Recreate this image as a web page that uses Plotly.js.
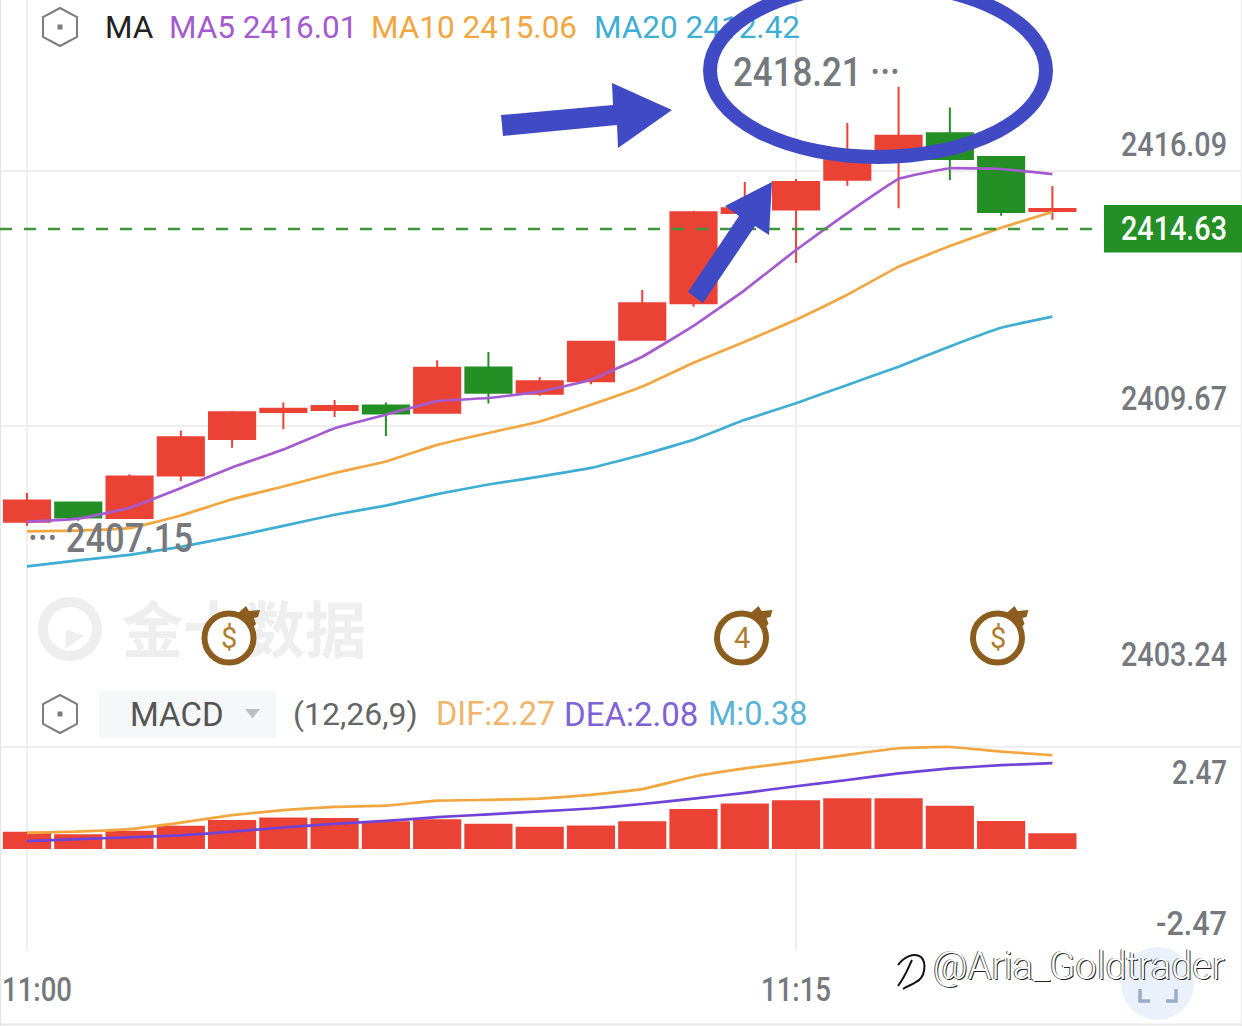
<!DOCTYPE html>
<html><head><meta charset="utf-8">
<script src="https://cdn.plot.ly/plotly-3.0.1.min.js"></script>
<style>html,body{margin:0;padding:0;background:#fff;overflow:hidden}#c{width:1242px;height:1026px}</style>
</head><body><div id="c"></div>
<script>
const minutes=[0,1,2,3,4,5,6,7,8,9,10,11,12,13,14,15,16,17,18,19,20];
const open =[2407.25,2407.74,2407.35,2408.42,2409.34,2410.02,2410.07,2410.18,2410.00,2411.14,2410.48,2410.79,2411.84,2412.76,2415.03,2415.12,2415.87,2416.49,2417.04,2416.44,2415.08];
const high =[2407.98,2407.76,2408.45,2409.55,2410.04,2410.26,2410.32,2410.26,2411.32,2411.53,2410.90,2411.81,2413.09,2415.09,2415.81,2415.89,2417.30,2418.21,2417.69,2416.44,2415.71];
const low  =[2407.15,2407.28,2407.34,2408.27,2409.12,2409.58,2409.89,2409.41,2409.98,2410.23,2410.43,2410.72,2411.81,2412.67,2415.00,2413.77,2415.72,2415.15,2415.86,2414.96,2414.86];
const close=[2407.79,2407.36,2408.39,2409.38,2410.01,2410.10,2410.17,2409.98,2411.13,2410.50,2410.79,2411.79,2412.76,2415.05,2415.15,2415.81,2416.57,2416.98,2416.39,2415.06,2415.13];
const ma5  =[2407.25,2407.33,2407.60,2408.10,2408.62,2409.07,2409.61,2409.95,2410.29,2410.37,2410.53,2410.83,2411.41,2412.19,2413.09,2414.10,2415.03,2415.89,2416.16,2416.14,2416.01];
const ma10 =[2407.01,2407.03,2407.09,2407.41,2407.82,2408.14,2408.48,2408.77,2409.19,2409.49,2409.78,2410.20,2410.66,2411.26,2411.79,2412.34,2412.97,2413.68,2414.20,2414.66,2415.06];
const ma20 =[2406.13,2406.28,2406.42,2406.62,2406.87,2407.15,2407.43,2407.66,2407.95,2408.19,2408.39,2408.61,2408.94,2409.32,2409.82,2410.24,2410.70,2411.16,2411.67,2412.14,2412.42];
const macdM=[0.42,0.36,0.44,0.56,0.70,0.76,0.75,0.67,0.72,0.61,0.54,0.57,0.67,0.97,1.10,1.18,1.23,1.23,1.05,0.68,0.38];
const dif  =[0.39,0.42,0.48,0.64,0.82,0.94,1.02,1.05,1.17,1.19,1.22,1.31,1.45,1.75,1.95,2.11,2.28,2.44,2.47,2.36,2.27];
const dea  =[0.19,0.24,0.28,0.33,0.42,0.52,0.61,0.68,0.77,0.84,0.91,0.98,1.09,1.22,1.36,1.52,1.67,1.83,1.95,2.03,2.08];
const priceTicks=[2416.09,2409.67,2403.24];
const macdTicks=[2.47,-2.47];
const timeTicks=[0,15];
const timeLabels=['11:00','11:15'];
const eventIcons=['$','4','$'];
const lastPrice=2414.63, periodHigh=2418.21, periodLow=2407.15;

const RED='#EA4335',GREEN='#248F24',PUR='#A55BD0',ORG='#F2A63F',BLU='#3FAED3',DEAC='#6F42D8',GREY='#75797E',BLUE='#3F4AC4';
const NUM='Roboto,sans-serif', UI='Roboto,sans-serif';
const W=1242,H=1026;
const xPx=p=>(p-27)/51.27;            // pixel → minute axis, for placing decorations
const yPx=p=>2416.09-(p-171)*12.85/510; // pixel → price axis
const X=p=>p/W, Y=p=>1-p/H;           // pixel → paper

function poly(pts,fill,line,lw){
  return {type:'path',xref:'paper',yref:'paper',layer:'above',
    path:'M'+pts.map(q=>X(q[0])+','+Y(q[1])).join(' L')+' Z',
    fillcolor:fill,line:{color:line||fill,width:lw||0}};
}
function curve(d,color,lw,fill){
  let s='';d.forEach(c=>{s+=c[0];for(let i=1;i<c.length;i+=2)s+=(i>1?' ':'')+X(c[i])+','+Y(c[i+1])+' ';});
  return {type:'path',xref:'paper',yref:'paper',layer:'above',path:s,fillcolor:fill||'rgba(0,0,0,0)',line:{color,width:lw}};
}
function line(x0,y0,x1,y1,color,w){return {type:'line',xref:'paper',yref:'paper',layer:'above',x0:X(x0),y0:Y(y0),x1:X(x1),y1:Y(y1),line:{color,width:w}};}
function oval(x0,y0,x1,y1,fill,lc,lw){return {type:'circle',xref:'paper',yref:'paper',layer:'above',x0:X(x0),x1:X(x1),y0:Y(y0),y1:Y(y1),fillcolor:fill,line:{color:lc,width:lw}};}
function hex(cy){const c=60;return poly([[c,cy-19],[c+17,cy-10],[c+17,cy+10],[c,cy+19],[c-17,cy+10],[c-17,cy-10]],'rgba(0,0,0,0)','#7d7d7d',2);}
function bomb(cx){const cy=638;return [
  poly([[cx+8,cy-24],[cx+17,cy-32],[cx+20,cy-27],[cx+31,cy-28],[cx+29,cy-21],[cx+25,cy-20],[cx+27,cy-14],[cx+22,cy-9]],'#8B5E20'),
  oval(cx-24.5,cy-24.5,cx+24.5,cy+24.5,'#fff','#8B5E20',6)];}

const iconCenters=[229,741.5,997.5];
const shapes=[
  line(0.5,0,0.5,1026,'#e6e6e6',1.5), line(1241.5,0,1241.5,1026,'#eeeeee',1.5),
  line(0,1024.5,1242,1024.5,'#e8e8e8',2),
  {type:'line',xref:'paper',yref:'y',layer:'above',x0:0,x1:X(1104),y0:lastPrice,y1:lastPrice,line:{color:'#3E953B',width:2.5,dash:'12px,12px'}},
  {type:'rect',xref:'paper',yref:'paper',layer:'above',x0:X(1104),x1:1,y0:Y(205),y1:Y(252.5),fillcolor:GREEN,line:{width:0}},
  hex(27),hex(714),
  {type:'rect',xref:'paper',yref:'paper',layer:'above',x0:X(57.5),x1:X(62.5),y0:Y(24.5),y1:Y(29.5),fillcolor:'#7d7d7d',line:{width:0}},
  {type:'rect',xref:'paper',yref:'paper',layer:'above',x0:X(57.5),x1:X(62.5),y0:Y(711.5),y1:Y(716.5),fillcolor:'#7d7d7d',line:{width:0}},
  {type:'rect',xref:'paper',yref:'paper',layer:'above',x0:X(99),x1:X(276),y0:Y(691),y1:Y(738),fillcolor:'#F6F7F9',line:{width:0}},
  poly([[245,709],[260,709],[252.5,718.5]],'#BDBEC0'),
  ...iconCenters.flatMap(bomb),
  oval(1121,947,1194,1020,'#EAF1FA','#EAF1FA',0),
  curve([['M',1140,989],['L',1140,1001],['L',1150,1001]],'#9DABC9',3.5),
  curve([['M',1176,989],['L',1176,1001],['L',1166,1001]],'#9DABC9',3.5),
  oval(710,-16,1046,157,'rgba(0,0,0,0)',BLUE,14),
  poly([[501,115],[613,105],[612,83],[672,110],[618,148],[617,125],[503,136]],BLUE),
  poly([[772,182],[725,206],[739,216],[688,292],[703,303],[755,226],[769,235]],BLUE),
  curve([['M',898,965],['C',904,957,914,952,921,957],['C',927,963,925,978,916,982],['C',912,985,907,986,903,989]],'#111',2),
  curve([['M',912,960],['C',908,968,906,975,898,986]],'#111',2)
];

function ann(t){return Object.assign({xref:'paper',yref:'paper',showarrow:false,align:'left',xanchor:'left',yanchor:'middle',captureevents:false},t);}
function pxText(text,px,py,size,color,family,extra){return ann(Object.assign({text,x:X(px),y:Y(py),font:{size,color,family}},extra||{}));}
const numFont=(size,color)=>({size,color,family:NUM,weight:500});

const condensed={};
priceTicks.forEach(v=>condensed[v.toFixed(2)]=106);
condensed[lastPrice.toFixed(2)]=106;
condensed['2.47']=55; condensed['-2.47']=71;
timeLabels.forEach(t=>condensed[t]=70);
condensed[periodHigh.toFixed(2)+' ···']=167;
condensed['··· '+periodLow.toFixed(2)]=165;

const annotations=[
  ...priceTicks.map(v=>ann({text:v.toFixed(2),yref:'y',y:v,x:X(1119),yshift:27,font:numFont(33,GREY)})),
  ...macdTicks.map(v=>ann({text:v.toFixed(2),yref:'y2',y:v,x:X(v>0?1170:1154),yshift:v>0?-26:28,font:numFont(33,GREY)})),
  ann({text:lastPrice.toFixed(2),yref:'y',y:lastPrice,x:X(1119),font:numFont(33,'#fff')}),
  ann({text:timeLabels[0],xref:'x',x:timeTicks[0],xshift:-27,y:Y(989),font:numFont(33,GREY)}),
  ann({text:timeLabels[1],xref:'x',x:timeTicks[1],xshift:-37,y:Y(989),font:numFont(33,GREY)}),
  ann({text:periodHigh.toFixed(2)+' ···',xref:'x',yref:'y',x:minutes[17],y:periodHigh,xshift:-168,yshift:15,font:numFont(41,GREY)}),
  ann({text:'··· '+periodLow.toFixed(2),xref:'x',yref:'y',x:minutes[0],y:periodLow,xshift:-1,yshift:-12,font:numFont(41,GREY)}),
  ...eventIcons.map((t,i)=>pxText(t,iconCenters[i],638,29,'#B07D30',UI,{xanchor:'center',align:'center'})),
  pxText('MACD',128,714,33,'#555',UI),
  pxText('(12,26,9)',291,714,32,'#666',UI),
  pxText('DIF:'+dif[20].toFixed(2),434,714,32.5,'#F2B46A',UI),
  pxText('DEA:'+dea[20].toFixed(2),562,714,33,'#7E62D6',UI),
  pxText('M:'+macdM[20].toFixed(2),706,714,32.5,'#5BB4D8',UI),
  pxText('@Aria_Goldtrader',931,966,38,'#fff',UI,{font:{size:38,color:'#fff',family:UI,weight:300,shadow:'1px 1px 0 #222,-1px 0 0 #555'}})
];

const headerLabels=['MA','MA5 '+ma5[20].toFixed(2),'MA10 '+ma10[20].toFixed(2),'MA20 '+ma20[20].toFixed(2)];
const headerColors=['#222',PUR,ORG,BLU];
const headerStarts=[105,169,371,594];

const traces=[
  {type:'box',x:[200],y:[2410],xaxis:'x',yaxis:'y',hoverinfo:'skip',showlegend:false,marker:{opacity:0},line:{width:0}},
  {type:'scatter',mode:'text',x:[xPx(122)],y:[yPx(638)],text:['金十数据'],textposition:'middle right',
   textfont:{family:'Noto Sans CJK SC',size:61,color:'#EEEEEE',weight:700},hoverinfo:'skip',showlegend:false,cliponaxis:false},
  {type:'scatter',mode:'markers',x:[xPx(70)],y:[yPx(629)],marker:{size:54,color:'rgba(0,0,0,0)',line:{color:'#EEEEEE',width:10}},hoverinfo:'skip',showlegend:false},
  {type:'scatter',mode:'markers',x:[xPx(72)],y:[yPx(638)],marker:{size:20,symbol:'triangle-up',angle:-35,color:'#EEEEEE'},hoverinfo:'skip',showlegend:false},
  {type:'candlestick',x:minutes,open,high,low,close,xaxis:'x',yaxis:'y',whiskerwidth:0,
   increasing:{line:{color:RED,width:2},fillcolor:RED},decreasing:{line:{color:GREEN,width:2},fillcolor:GREEN},showlegend:false},
  {type:'scatter',mode:'lines',x:minutes,y:ma20,line:{color:BLU,width:2.7,shape:'spline',smoothing:0.3},name:'MA20',showlegend:false},
  {type:'scatter',mode:'lines',x:minutes,y:ma10,line:{color:ORG,width:2.7,shape:'spline',smoothing:0.3},name:'MA10',showlegend:false},
  {type:'scatter',mode:'lines',x:minutes,y:ma5,line:{color:PUR,width:2.7,shape:'spline',smoothing:0.3},name:'MA5',showlegend:false},
  ...headerLabels.map((t,i)=>({type:'scatter',mode:'text',x:[xPx(headerStarts[i])],y:[yPx(30)],text:[t],textposition:'middle right',
    textfont:{family:UI,size:31.5,color:headerColors[i]},hoverinfo:'skip',showlegend:false,cliponaxis:false})),
  {type:'bar',x:minutes,y:macdM,width:0.94,marker:{color:RED,line:{width:0}},xaxis:'x',yaxis:'y2',name:'M',showlegend:false},
  {type:'scatter',mode:'lines',x:minutes,y:dif,xaxis:'x',yaxis:'y2',line:{color:ORG,width:2.7,shape:'spline',smoothing:0.3},name:'DIF',showlegend:false},
  {type:'scatter',mode:'lines',x:minutes,y:dea,xaxis:'x',yaxis:'y2',line:{color:DEAC,width:2.7,shape:'spline',smoothing:0.3},name:'DEA',showlegend:false}
];

const layout={
  width:W,height:H,margin:{l:0,r:0,t:0,b:0},paper_bgcolor:'#fff',plot_bgcolor:'#fff',showlegend:false,boxgap:0.1,boxgroupgap:0,boxmode:'overlay',hovermode:false,
  xaxis:{range:[xPx(0),xPx(W)],anchor:'y2',tickmode:'array',tickvals:timeTicks,ticktext:timeLabels,showticklabels:false,showgrid:true,gridcolor:'#EFEFEF',gridwidth:1.5,zeroline:false,showline:false,ticks:'',rangeslider:{visible:false},fixedrange:true},
  yaxis:{domain:[Y(681),1],range:[priceTicks[2],yPx(0)],tickmode:'array',tickvals:priceTicks,showticklabels:false,showgrid:true,gridcolor:'#EFEFEF',gridwidth:1.5,zeroline:false,showline:false,ticks:'',fixedrange:true},
  yaxis2:{domain:[Y(951),Y(681)],range:[-2.47,(849-681)/41.3],tickmode:'array',tickvals:macdTicks,showticklabels:false,showgrid:true,gridcolor:'#EFEFEF',gridwidth:1.5,zeroline:false,showline:false,ticks:'',fixedrange:true},
  shapes,annotations
};
Plotly.newPlot('c',traces,layout,{displayModeBar:false,staticPlot:true}).then(()=>{
  document.querySelectorAll('.annotation-text').forEach(t=>{
    const w=condensed[t.textContent];
    if(w){t.setAttribute('textLength',w);t.setAttribute('lengthAdjust','spacingAndGlyphs');}
  });
});
</script></body></html>
